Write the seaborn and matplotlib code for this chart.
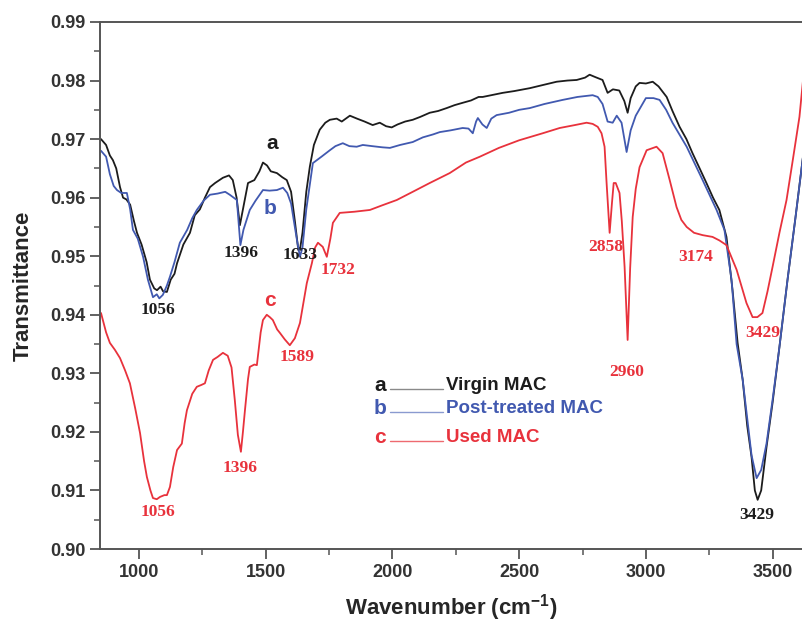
import matplotlib
matplotlib.use("Agg")
import matplotlib.pyplot as plt
import seaborn as sns
import pandas as pd
import numpy as np

# ---------------- data ----------------
wn_a = [850, 870, 885, 897, 910, 925, 937, 950, 965, 980, 992, 1010, 1030, 1043, 1060, 1071, 1085, 1095,
        1110, 1125, 1140, 1150, 1175, 1201, 1220, 1240, 1260, 1280, 1300, 1331, 1355, 1370, 1385, 1398,
        1410, 1430, 1455, 1475, 1489, 1505, 1520, 1544, 1565, 1583, 1600, 1615, 1627, 1635, 1645, 1660,
        1674, 1690, 1713, 1735, 1753, 1780, 1800, 1832, 1860, 1890, 1922, 1950, 1975, 1997, 2020, 2050,
        2080, 2110, 2147, 2180, 2214, 2245, 2277, 2310, 2340, 2356, 2390, 2435, 2480, 2542, 2590, 2648,
        2690, 2727, 2760, 2778, 2800, 2829, 2849, 2870, 2895, 2915, 2928, 2940, 2960, 2975, 3000, 3027,
        3050, 3082, 3105, 3133, 3160, 3184, 3210, 3239, 3265, 3290, 3318, 3342, 3362, 3382, 3400, 3417,
        3430, 3441, 3455, 3476, 3500, 3527, 3559, 3590, 3620]
t_a = [0.9700, 0.9690, 0.9672, 0.9664, 0.9650, 0.9618, 0.9600, 0.9597, 0.9588, 0.9560, 0.9540, 0.9520,
       0.9490, 0.9460, 0.9445, 0.9442, 0.9448, 0.9440, 0.9439, 0.9460, 0.9470, 0.9488, 0.9520, 0.9540,
       0.9570, 0.9580, 0.9600, 0.9618, 0.9625, 0.9634, 0.9638, 0.9630, 0.9600, 0.9553, 0.9580, 0.9625,
       0.9630, 0.9645, 0.9660, 0.9655, 0.9645, 0.9642, 0.9635, 0.9630, 0.9610, 0.9560, 0.9516, 0.9511,
       0.9540, 0.9610, 0.9653, 0.9690, 0.9716, 0.9728, 0.9733, 0.9735, 0.9730, 0.9740, 0.9735, 0.9730,
       0.9724, 0.9728, 0.9722, 0.9720, 0.9725, 0.9730, 0.9733, 0.9738, 0.9745, 0.9748, 0.9753, 0.9758,
       0.9762, 0.9766, 0.9772, 0.9772, 0.9775, 0.9779, 0.9782, 0.9787, 0.9792, 0.9798, 0.9800, 0.9801,
       0.9805, 0.9810, 0.9806, 0.9801, 0.9779, 0.9785, 0.9783, 0.9765, 0.9745, 0.9770, 0.9790, 0.9796,
       0.9795, 0.9798, 0.9790, 0.9772, 0.9748, 0.9721, 0.9700, 0.9676, 0.9652, 0.9625, 0.9600, 0.9579,
       0.9533, 0.9442, 0.9352, 0.9289, 0.9210, 0.9157, 0.9100, 0.9084, 0.9100, 0.9174, 0.9250, 0.9345,
       0.9460, 0.9565, 0.9670]

wn_b = [850, 870, 885, 900, 913, 930, 952, 965, 976, 995, 1016, 1035, 1055, 1070, 1080, 1094, 1110, 1122,
        1140, 1161, 1190, 1210, 1228, 1255, 1280, 1310, 1340, 1358, 1386, 1400, 1412, 1437, 1460, 1489,
        1515, 1544, 1568, 1585, 1600, 1623, 1635, 1645, 1660, 1686, 1720, 1753, 1775, 1804, 1830, 1859,
        1883, 1920, 1960, 1990, 2030, 2080, 2120, 2160, 2187, 2230, 2277, 2300, 2317, 2330, 2337, 2355,
        2372, 2390, 2411, 2460, 2500, 2542, 2600, 2672, 2730, 2790, 2810, 2829, 2849, 2869, 2885, 2904,
        2924, 2940, 2960, 3000, 3030, 3054, 3080, 3105, 3161, 3224, 3279, 3310, 3338, 3358, 3382, 3417,
        3437, 3455, 3476, 3500, 3527, 3559, 3590, 3620]
t_b = [0.9680, 0.9670, 0.9640, 0.9620, 0.9613, 0.9608, 0.9608, 0.9580, 0.9545, 0.9530, 0.9499, 0.9460,
       0.9430, 0.9435, 0.9428, 0.9434, 0.9450, 0.9465, 0.9490, 0.9523, 0.9545, 0.9565, 0.9579, 0.9595,
       0.9605, 0.9607, 0.9610, 0.9605, 0.9596, 0.9519, 0.9545, 0.9579, 0.9595, 0.9613, 0.9612, 0.9613,
       0.9617, 0.9608, 0.9590, 0.9528, 0.9499, 0.9515, 0.9580, 0.9659, 0.9670, 0.9681, 0.9688, 0.9693,
       0.9688, 0.9687, 0.9690, 0.9688, 0.9686, 0.9685, 0.9690, 0.9695, 0.9703, 0.9708, 0.9712, 0.9715,
       0.9719, 0.9718, 0.9710, 0.9730, 0.9736, 0.9725, 0.9719, 0.9735, 0.9741, 0.9745, 0.9750, 0.9753,
       0.9760, 0.9767, 0.9772, 0.9775, 0.9772, 0.9760, 0.9730, 0.9728, 0.9740, 0.9728, 0.9678, 0.9715,
       0.9740, 0.9770, 0.9770, 0.9767, 0.9750, 0.9728, 0.9687, 0.9630, 0.9579, 0.9545, 0.9460, 0.9350,
       0.9289, 0.9160, 0.9121, 0.9135, 0.9180, 0.9255, 0.9345, 0.9460, 0.9565, 0.9670]

wn_c = [850, 870, 885, 905, 925, 945, 964, 985, 1004, 1020, 1031, 1045, 1055, 1070, 1083, 1100, 1110, 1122,
        1135, 1150, 1169, 1180, 1189, 1210, 1228, 1245, 1260, 1275, 1292, 1310, 1331, 1350, 1365, 1378,
        1390, 1402, 1410, 1418, 1430, 1437, 1455, 1465, 1480, 1489, 1504, 1516, 1528, 1545, 1556, 1575,
        1595, 1615, 1635, 1662, 1682, 1695, 1706, 1725, 1741, 1755, 1765, 1792, 1850, 1911, 1960, 2017,
        2080, 2147, 2226, 2290, 2345, 2420, 2500, 2593, 2660, 2720, 2766, 2790, 2810, 2825, 2837, 2845,
        2857, 2866, 2873, 2881, 2896, 2905, 2916, 2928, 2938, 2948, 2960, 2975, 3003, 3042, 3066, 3094,
        3121, 3140, 3161, 3190, 3224, 3263, 3290, 3318, 3358, 3397, 3421, 3440, 3460, 3480, 3500, 3527,
        3555, 3580, 3606, 3620]
t_c = [0.9403, 0.9370, 0.9352, 0.9340, 0.9326, 0.9305, 0.9283, 0.9240, 0.9198, 0.9150, 0.9123, 0.9100,
       0.9087, 0.9085, 0.9089, 0.9092, 0.9092, 0.9106, 0.9140, 0.9169, 0.9180, 0.9215, 0.9237, 0.9265,
       0.9277, 0.9280, 0.9283, 0.9305, 0.9323, 0.9328, 0.9335, 0.9330, 0.9310, 0.9254, 0.9195, 0.9166,
       0.9200, 0.9237, 0.9290, 0.9311, 0.9315, 0.9314, 0.9370, 0.9391, 0.9400, 0.9396, 0.9391, 0.9375,
       0.9369, 0.9358, 0.9348, 0.9360, 0.9386, 0.9454, 0.9488, 0.9515, 0.9523, 0.9516, 0.9499, 0.9530,
       0.9557, 0.9574, 0.9576, 0.9579, 0.9587, 0.9596, 0.9610, 0.9625, 0.9642, 0.9660, 0.9670, 0.9685,
       0.9698, 0.9710, 0.9719, 0.9724, 0.9728, 0.9726, 0.9721, 0.9710, 0.9687, 0.9625, 0.9540, 0.9590,
       0.9625, 0.9625, 0.9608, 0.9560, 0.9482, 0.9357, 0.9480, 0.9567, 0.9615, 0.9652, 0.9681, 0.9687,
       0.9676, 0.9630, 0.9584, 0.9562, 0.9550, 0.9540, 0.9536, 0.9533, 0.9527, 0.9519, 0.9477, 0.9420,
       0.9396, 0.9396, 0.9403, 0.9440, 0.9482, 0.9540, 0.9596, 0.9665, 0.9738, 0.9800]

series_names = ["Virgin MAC", "Post-treated MAC", "Used MAC"]
series_letters = ["a", "b", "c"]
series_colors = ["#1c1c1c", "#4159b0", "#e8323c"]

# peak labels: (text, wavenumber, transmittance, colour index)
peak_text = ["1396", "1633", "1056", "1732", "1589", "1396", "1056", "2858", "2960", "3174", "3429", "3429"]
peak_x = [1402, 1637, 1075, 1784, 1623, 1398, 1075, 2841, 2924, 3196, 3460, 3437]
peak_y = [0.9506, 0.9502, 0.9408, 0.9477, 0.9328, 0.9138, 0.9063, 0.9516, 0.9302, 0.9499, 0.9369, 0.9058]
peak_c = [0, 0, 0, 2, 2, 2, 2, 2, 2, 2, 2, 0]

# ---------------- plotting ----------------
sns.set_style("ticks")
plt.rcParams["font.family"] = ["Liberation Sans", "DejaVu Sans"]
plt.rcParams["mathtext.fontset"] = "custom"
plt.rcParams["mathtext.rm"] = "Liberation Sans"
plt.rcParams["mathtext.bf"] = "Liberation Sans:bold"

fig = plt.figure(figsize=(8.03, 6.23), dpi=100)
ax = fig.add_axes([100 / 803, 1 - 549 / 623, 703 / 803, 527 / 623])

frames = []
for name, wn, tt in zip(series_names, [wn_a, wn_b, wn_c], [t_a, t_b, t_c]):
    frames.append(pd.DataFrame({"wn": wn, "T": tt, "series": name}))
df = pd.concat(frames, ignore_index=True)

for name, col in zip(series_names, series_colors):
    sub = df[df["series"] == name]
    sns.lineplot(data=sub, x="wn", y="T", color=col, linewidth=1.3, ax=ax,
                 errorbar=None, estimator=None)

ax.set_xlim(846, 3620)
ax.set_ylim(0.90, 0.99)
ax.set_xticks([1000, 1500, 2000, 2500, 3000, 3500])
ax.set_xticks([1250, 1750, 2250, 2750, 3250], minor=True)
yt = np.round(np.arange(0.90, 0.991, 0.01), 2)
ax.set_yticks(yt)
ax.set_yticklabels([f"{v:.2f}" for v in yt])
ax.set_yticks(np.round(np.arange(0.905, 0.99, 0.01), 3), minor=True)

ax.tick_params(axis="both", which="major", direction="out", length=7, width=1.3,
               colors="#555555", labelcolor="#333333", labelsize=13)
ax.tick_params(axis="both", which="minor", direction="out", length=4, width=1.1, colors="#555555")
for lab in ax.get_xticklabels() + ax.get_yticklabels():
    lab.set_fontweight("bold")

for side in ["left", "bottom", "top"]:
    ax.spines[side].set_color("#555555")
    ax.spines[side].set_linewidth(1.4)
    ax.spines[side].set_visible(True)
ax.spines["right"].set_visible(False)

ax.set_xlabel("Wavenumber (cm$^{\\mathbf{-1}}$)", fontsize=16, fontweight="bold", labelpad=8)
ax.set_ylabel("Transmittance", fontsize=16, fontweight="bold", labelpad=12)

# curve letters
ax.text(1524, 0.9693, "a", color=series_colors[0], fontsize=15, fontweight="bold", ha="center", va="center")
ax.text(1516, 0.9582, "b", color=series_colors[1], fontsize=15, fontweight="bold", ha="center", va="center")
ax.text(1516, 0.9425, "c", color=series_colors[2], fontsize=15, fontweight="bold", ha="center", va="center")

# peak labels
for txt, px, py, ci in zip(peak_text, peak_x, peak_y, peak_c):
    ax.text(px, py, txt, color=series_colors[ci], fontsize=12.5, fontweight="bold",
            family=["Liberation Serif", "DejaVu Serif"], ha="center", va="center")

# legend (drawn manually as in the reference)
leg_y = [0.311, 0.2675, 0.2125]
for i, (letter, name, col) in enumerate(zip(series_letters, series_names, series_colors)):
    ax.text(0.398, leg_y[i], letter, transform=ax.transAxes, color=col, fontsize=15,
            fontweight="bold", ha="center", va="center")
    lc = "#8a8a8a" if i == 0 else ("#8a9ad0" if i == 1 else "#ee6a70")
    ax.plot([0.4125, 0.488], [leg_y[i] - 0.007, leg_y[i] - 0.007], transform=ax.transAxes,
            color=lc, linewidth=1.0)
    ax.text(0.492, leg_y[i], name, transform=ax.transAxes, color=col, fontsize=13.5,
            fontweight="bold", ha="left", va="center")

fig.savefig("out.png", dpi=100)
